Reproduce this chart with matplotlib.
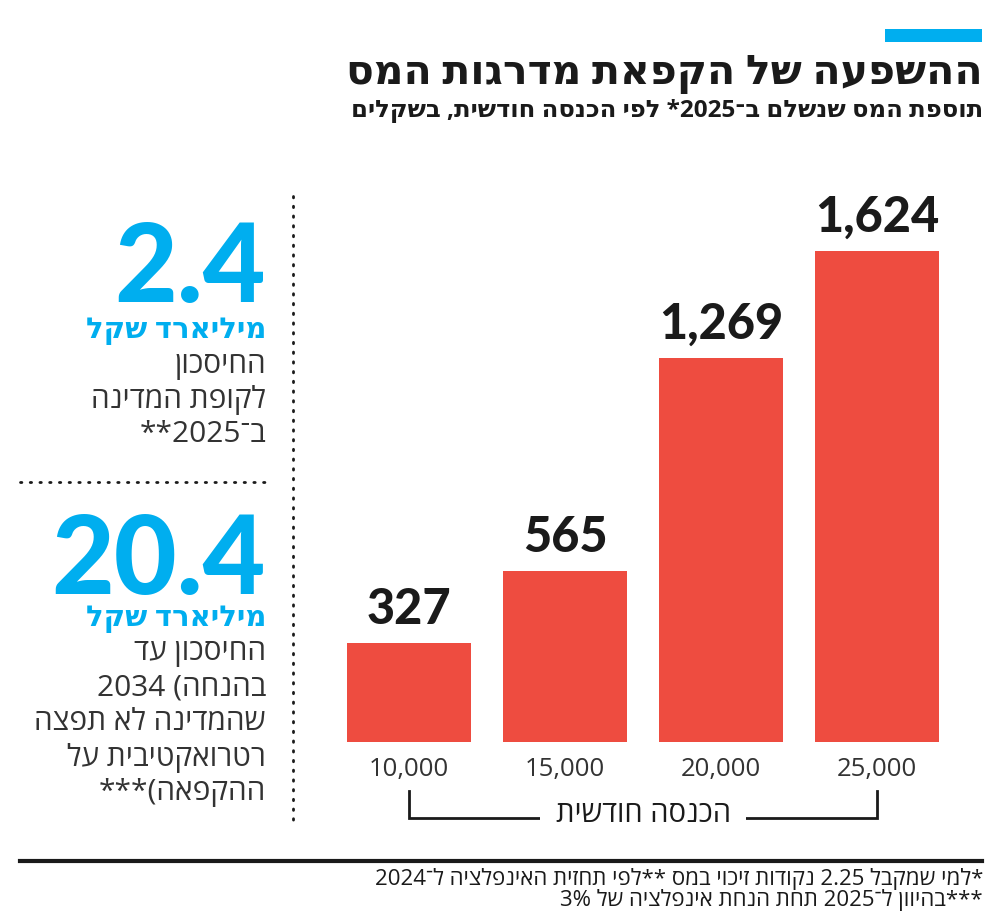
import re
import matplotlib
matplotlib.use("Agg")
import matplotlib.pyplot as plt
from matplotlib.transforms import blended_transform_factory

# ---------------------------------------------------------
# Data
# ---------------------------------------------------------
incomes = ["10,000", "15,000", "20,000", "25,000"]
tax_added = [327, 565, 1269, 1624]

title = "ההשפעה של הקפאת מדרגות המס"
subtitle = "תוספת המס שנשלם ב־2025* לפי הכנסה חודשית, בשקלים"
axis_label = "הכנסה חודשית"

stat_values = ["2.4", "20.4"]
stat_unit = "מיליארד שקל"
stat_lines_1 = ["החיסכון", "לקופת המדינה", "ב־2025**"]
stat_lines_2 = ["החיסכון עד", "2034 (בהנחה", "שהמדינה לא תפצה", "רטרואקטיבית על", "ההקפאה)***"]

footnotes = ["*למי שמקבל 2.25 נקודות זיכוי במס **לפי תחזית האינפלציה ל־2024",
             "***בהיוון ל־2025 תחת הנחת אינפלציה של 3%"]

RED = "#EE4C40"
BLUE = "#00AEEF"
DARK = "#1a1a1a"
GRAY = "#333333"

HEB = ["Open Sans", "DejaVu Sans"]
NUM = ["Lato", "DejaVu Sans"]


def rtl(s):
    # matplotlib has no bidi: reverse the text, keep numbers in reading order
    parts = re.findall(r"[0-9][0-9.,%]*|.", s)
    mirror = {"(": ")", ")": "("}
    return "".join(mirror.get(p, p) for p in reversed(parts))


W, H = 1000, 920
fig = plt.figure(figsize=(W / 100, H / 100), dpi=100)
fig.patch.set_facecolor("white")


def ftext(x, y, s, **kw):
    # x, y in pixels from the top-left corner
    return fig.text(x / W, 1 - y / H, s, **kw)


def hline(x0, x1, y, **kw):
    fig.add_artist(plt.Line2D([x0 / W, x1 / W], [1 - y / H, 1 - y / H], **kw))


def vline(x, y0, y1, **kw):
    fig.add_artist(plt.Line2D([x / W, x / W], [1 - y0 / H, 1 - y1 / H], **kw))


# ---------------------------------------------------------
# Header
# ---------------------------------------------------------
fig.add_artist(plt.Rectangle((885 / W, 1 - 43 / H), 97 / W, 13 / H,
                             color=BLUE, lw=0))
ftext(983, 74, rtl(title), ha="right", va="center", fontsize=29.5,
      fontweight="heavy", family=HEB, color=DARK)
ftext(983, 111, rtl(subtitle), ha="right", va="center", fontsize=17.5,
      fontweight="bold", family=HEB, color=DARK)

# ---------------------------------------------------------
# Bars
# ---------------------------------------------------------
ax = fig.add_axes([331 / W, (H - 743) / H, 624 / W, 543 / H])
x = range(len(tax_added))
ax.bar(x, tax_added, width=0.795, color=RED, zorder=2)
for i, v in enumerate(tax_added):
    ax.annotate(f"{v:,}", (i, v), xytext=(0, 9), textcoords="offset points",
                ha="center", va="bottom", fontsize=35, fontweight="black",
                family=NUM, color=DARK)
ax.set_xlim(-0.5, len(tax_added) - 0.5)
ax.set_ylim(0, 1796)
ax.set_xticks(list(x))
ax.set_xticklabels(incomes, fontsize=18.5, family=HEB, color=GRAY)
ax.tick_params(axis="x", length=0, pad=10)
ax.set_yticks([])
for sp in ax.spines.values():
    sp.set_visible(False)

# bracket under the income labels
tr = blended_transform_factory(ax.transData, fig.transFigure)
y_top, y_bot = 1 - 792 / H, 1 - 819 / H
ax.plot([0, 0, 3, 3], [y_top, y_bot, y_bot, y_top], transform=tr,
        color=DARK, lw=2, clip_on=False, solid_joinstyle="miter")
ax.text(1.5, 1 - 815 / H, rtl(axis_label), transform=tr, ha="center",
        va="center", fontsize=21, family=HEB, color=DARK,
        bbox=dict(facecolor="white", edgecolor="none", pad=11))

# ---------------------------------------------------------
# Left panel
# ---------------------------------------------------------
vline(293, 197, 828, color=DARK, lw=2, ls=(0, (0.5, 3)), dash_capstyle="round")
hline(20, 266, 483, color=DARK, lw=2, ls=(0, (0.5, 3)), dash_capstyle="round")

ftext(266, 302, stat_values[0], ha="right", va="baseline", fontsize=78,
      fontweight="black", family=NUM, color=BLUE)
ftext(266, 331, rtl(stat_unit), ha="right", va="center", fontsize=21,
      fontweight="bold", family=HEB, color=BLUE)
for k, line in enumerate(stat_lines_1):
    ftext(266, 366 + 34 * k, rtl(line), ha="right", va="center",
          fontsize=21.5, family=HEB, color=GRAY)

ftext(266, 594, stat_values[1], ha="right", va="baseline", fontsize=78,
      fontweight="black", family=NUM, color=BLUE)
ftext(266, 619, rtl(stat_unit), ha="right", va="center", fontsize=21,
      fontweight="bold", family=HEB, color=BLUE)
for k, line in enumerate(stat_lines_2):
    txt = rtl(line)
    if line.startswith("2034"):
        # keep the year on the left, as in the printed graphic
        txt = "2034 (" + rtl(line.split("(")[1])
    ftext(266, 653 + 35 * k, txt, ha="right", va="center",
          fontsize=21.5, family=HEB, color=GRAY)

# ---------------------------------------------------------
# Footer
# ---------------------------------------------------------
hline(20, 982, 862, color=DARK, lw=3)
for k, note in enumerate(footnotes):
    ftext(983, 879 + 21 * k, rtl(note), ha="right", va="center",
          fontsize=16, family=HEB, color=DARK)

fig.savefig("out.png", dpi=100, facecolor="white")
